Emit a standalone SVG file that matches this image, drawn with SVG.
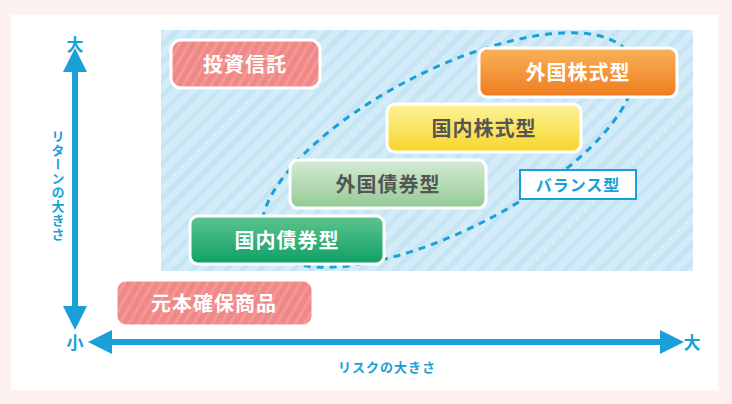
<svg xmlns="http://www.w3.org/2000/svg" width="732" height="404" viewBox="0 0 732 404">
<defs>
<pattern id="stripe" width="12" height="12" patternUnits="userSpaceOnUse" patternTransform="rotate(45)"><rect width="12" height="12" fill="#d3ecf8"/><rect width="5" height="12" fill="#c6e5f4"/></pattern>
<pattern id="pstripe" width="8" height="8" patternUnits="userSpaceOnUse" patternTransform="rotate(30)"><rect width="8" height="8" fill="#ef8886"/><rect width="3" height="8" fill="#f29896"/></pattern>
<linearGradient id="gO" x1="0" y1="0" x2="0" y2="1"><stop offset="0" stop-color="#f9b25a"/><stop offset="1" stop-color="#ef7b1e"/></linearGradient>
<linearGradient id="gY" x1="0" y1="0" x2="0" y2="1"><stop offset="0" stop-color="#fdf39a"/><stop offset="1" stop-color="#f8d52a"/></linearGradient>
<linearGradient id="gLG" x1="0" y1="0" x2="0" y2="1"><stop offset="0" stop-color="#d5ecd5"/><stop offset="1" stop-color="#93c994"/></linearGradient>
<linearGradient id="gG" x1="0" y1="0" x2="0" y2="1"><stop offset="0" stop-color="#5ec48e"/><stop offset="1" stop-color="#0ea066"/></linearGradient>
<marker id="ah" viewBox="0 0 10 10" refX="5" refY="5" markerWidth="4" markerHeight="4" orient="auto-start-reverse"><path d="M0,0 L10,5 L0,10 z" fill="#1aa0d8"/></marker>
</defs>
<style>
.box{stroke:#fff;stroke-width:3}
.t{font-family:"Noto Sans CJK JP",sans-serif;font-weight:bold;font-size:20px;text-anchor:middle;fill:#fff;letter-spacing:1px}
.td{fill:#555}
.ax{font-family:"Noto Sans CJK JP",sans-serif;fill:#1aa0d8;font-weight:bold}
</style>
<rect width="732" height="404" fill="#fdf1f1"/>
<rect x="11" y="15" width="707" height="375" fill="#fff"/>
<rect x="161" y="30" width="532" height="241" fill="url(#stripe)"/>
<g id="connectors">
<ellipse cx="448" cy="150" rx="205" ry="80" transform="rotate(-27 448 150)" fill="none" stroke="#1aa0d8" stroke-width="3" stroke-dasharray="7 6"/>
<line x1="75" y1="60" x2="75" y2="318" stroke="#1aa0d8" stroke-width="6" marker-start="url(#ah)" marker-end="url(#ah)"/>
<line x1="100" y1="342" x2="672" y2="342" stroke="#1aa0d8" stroke-width="6" marker-start="url(#ah)" marker-end="url(#ah)"/>
</g>
<g id="n1"><rect class="box" x="171" y="40" width="149" height="48" rx="10" fill="url(#pstripe)"/><text class="t" x="245" y="72">投資信託</text></g>
<g id="n2"><rect class="box" x="479" y="48" width="198" height="49" rx="8" fill="url(#gO)"/><text class="t" x="578" y="80">外国株式型</text></g>
<g id="n3"><rect class="box" x="387" y="104" width="194" height="48" rx="8" fill="url(#gY)"/><text class="t td" x="484" y="136">国内株式型</text></g>
<g id="n4"><rect class="box" x="290" y="160" width="196" height="48" rx="8" fill="url(#gLG)"/><text class="t td" x="388" y="192">外国債券型</text></g>
<g id="n5"><rect class="box" x="190" y="216" width="194" height="48" rx="8" fill="url(#gG)"/><text class="t" x="287" y="248">国内債券型</text></g>
<g id="n6"><rect class="box" x="116" y="280" width="197" height="46" rx="10" fill="url(#pstripe)"/><text class="t" x="214" y="311">元本確保商品</text></g>
<g id="n7"><rect x="520" y="170" width="116" height="29" fill="#fff" stroke="#1aa0d8" stroke-width="2"/><text class="ax" x="578" y="191" font-size="16" text-anchor="middle" letter-spacing="1">バランス型</text></g>
<g id="labels">
<text class="ax" x="75" y="51" font-size="17" text-anchor="middle">大</text>
<text class="ax" x="75" y="349" font-size="17" text-anchor="middle">小</text>
<text class="ax" x="692" y="349" font-size="17" text-anchor="middle">大</text>
<text class="ax" x="387" y="372" font-size="13" text-anchor="middle" letter-spacing="1">リスクの大きさ</text>
<text class="ax" x="58" y="130" font-size="13" writing-mode="vertical-rl" letter-spacing="1">リターンの大きさ</text>
</g>
</svg>
